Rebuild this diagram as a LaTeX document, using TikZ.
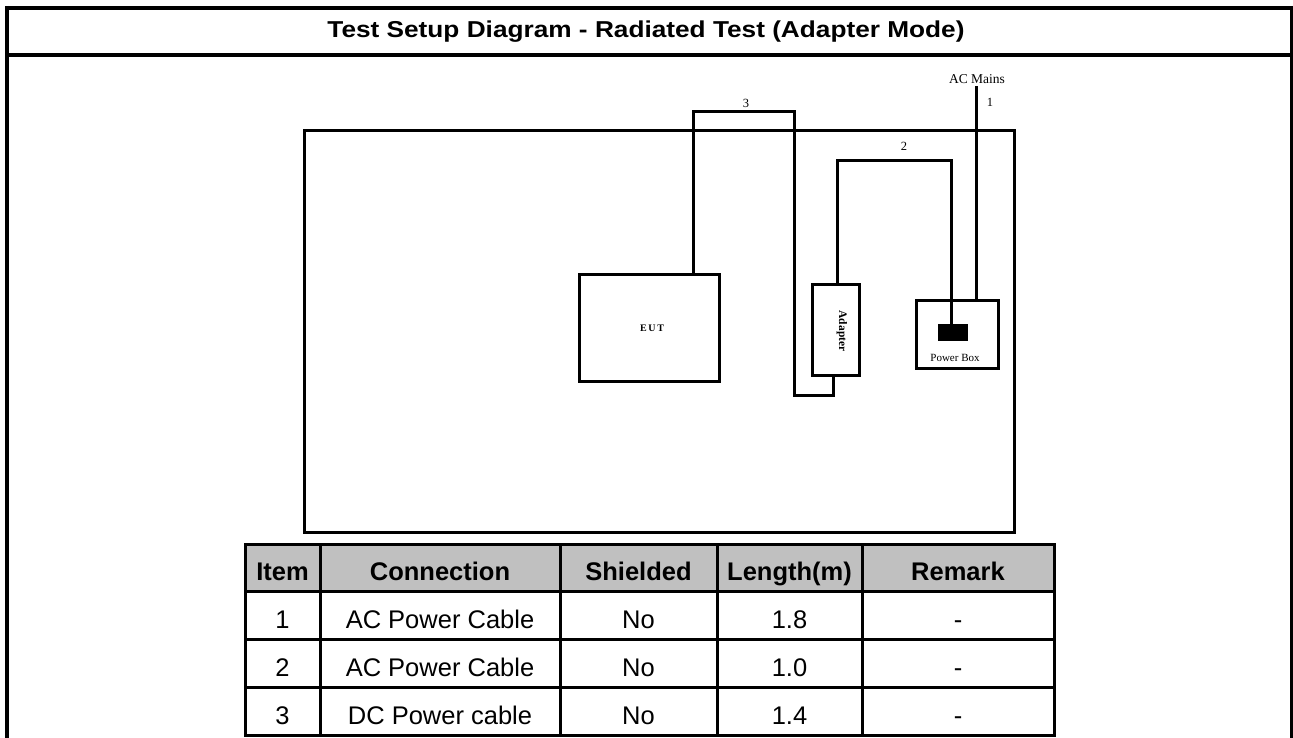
\documentclass[tikz,border=0pt]{standalone}
\usepackage{fontspec}
\setmainfont{Liberation Serif}
\newfontfamily\arialf{Liberation Sans}
\begin{document}
\begin{tikzpicture}[x=1pt,y=-1pt,
  frame/.style={line width=4pt},
  boxline/.style={draw,line width=3pt,inner sep=0pt,outer sep=0pt,fill=white},
  cable/.style={line width=3pt,line join=miter},
  small/.style={font=\fontsize{11}{13}\selectfont,inner sep=0pt},
  grid/.style={line width=3pt},
  th/.style={font=\arialf\bfseries\fontsize{25.5}{28}\selectfont,text height=18.3pt,text depth=0pt,inner sep=0pt},
  td/.style={font=\arialf\fontsize{25.5}{28}\selectfont,text height=18.3pt,text depth=0pt,inner sep=0pt}]
\useasboundingbox (0,0) rectangle (1293,738);
\fill[white] (0,0) rectangle (1293,738);
% outer frame
\draw[frame] (5,8) -- (1293,8);
\draw[frame] (7,6) -- (7,738);
\draw[line width=3pt] (1291.5,6) -- (1291.5,738);
\draw[line width=3.5pt] (5,55) -- (1293,55);
\node[font=\arialf\bfseries\fontsize{23}{26}\selectfont,text height=16.5pt,text depth=0pt,inner sep=0pt,xscale=1.14] (title) at (646,29.7) {Test Setup Diagram - Radiated Test (Adapter Mode)};
% diagram area
\draw[line width=3pt] (304,131) rectangle (1014,532);
\coordinate (c3a) at (693,274);
\coordinate (c3b) at (693,112);
\coordinate (c3c) at (794,112);
\coordinate (c3d) at (794,395);
\coordinate (c3e) at (833,395);
\coordinate (ad3) at (833,375);
\coordinate (ad2) at (837,284);
\coordinate (c2b) at (837,161);
\coordinate (c2c) at (951,161);
\coordinate (pb2) at (951,324);
\coordinate (pb1) at (976,300);
\coordinate (mains) at (976,86);
\node[boxline,minimum width=140pt,minimum height=107pt] (eut) at (649,327.5) {};
\node[font=\fontsize{10}{12}\selectfont\bfseries] (euttext) at (652,328) {E\,U\,T};
\node[boxline,minimum width=47pt,minimum height=91pt] (adapter) at (835.5,329.5) {};
\node[small,rotate=-90,font=\fontsize{11.5}{13}\selectfont\bfseries] (adtext) at (842,331) {Adapter};
\node[boxline,minimum width=82pt,minimum height=68pt] (pbox) at (957,334) {};
\node[fill=black,minimum width=30pt,minimum height=17pt,inner sep=0pt] (plug) at (953,332.5) {};
\node[small] (pbtext) at (955,358) {Power Box};
\draw[cable] (c3a) -- (c3b) -- (c3c) -- (c3d) -- (c3e) -- (ad3);
\draw[cable] (ad2) -- (c2b) -- (c2c) -- (pb2);
\draw[cable] (pb1) -- (mains);
\node[small,font=\fontsize{13.5}{15}\selectfont] (acm) at (977,79) {AC Mains};
\node[small,font=\fontsize{12.5}{14}\selectfont] (l3) at (746,103) {3};
\node[small,font=\fontsize{12.5}{14}\selectfont] (l2) at (904,146) {2};
\node[small,font=\fontsize{12.5}{14}\selectfont] (l1) at (990,102) {1};
% table
\fill[fill={rgb,255:red,192;green,192;blue,192}] (245,544) rectangle (1054,591);
\draw[grid] (245,544) rectangle (1054,735);
\foreach \yy in {591,639,687} \draw[grid] (245,\yy) -- (1054,\yy);
\foreach \xx in {320,560,717,862} \draw[grid] (\xx,544) -- (\xx,735);
\node[th] (h1) at (282.5,571) {Item};
\node[th] (h2) at (440,571) {Connection};
\node[th] (h3) at (638.5,571) {Shielded};
\node[th] (h4) at (789.5,571) {Length(m)};
\node[th] (h5) at (958,571) {Remark};
\node[td] (a1) at (282.5,619) {1};
\node[td] (a2) at (440,619) {AC Power Cable};
\node[td] (a3) at (638.5,619) {No};
\node[td] (a4) at (789.5,619) {1.8};
\node[td] (a5) at (958,619) {-};
\node[td] (b1) at (282.5,667) {2};
\node[td] (b2) at (440,667) {AC Power Cable};
\node[td] (b3) at (638.5,667) {No};
\node[td] (b4) at (789.5,667) {1.0};
\node[td] (b5) at (958,667) {-};
\node[td] (c1) at (282.5,715) {3};
\node[td] (c2) at (440,715) {DC Power cable};
\node[td] (c3) at (638.5,715) {No};
\node[td] (c4) at (789.5,715) {1.4};
\node[td] (c5) at (958,715) {-};
\end{tikzpicture}
\end{document}
